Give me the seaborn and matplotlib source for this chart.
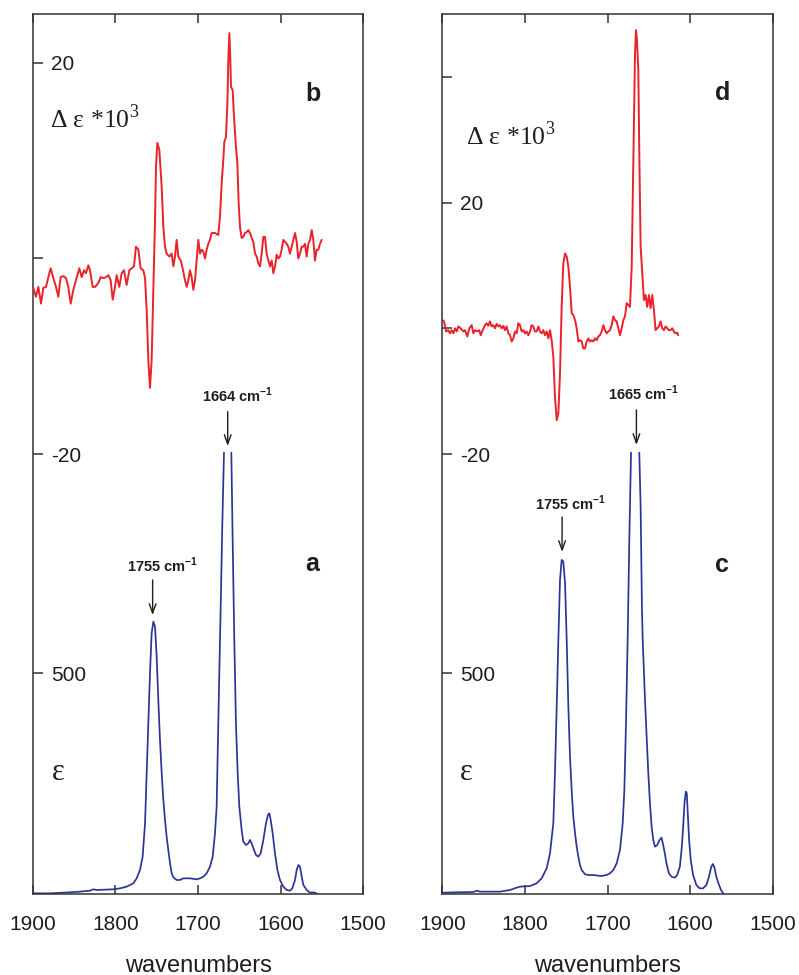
import numpy as np
import pandas as pd
import matplotlib
matplotlib.use("Agg")
import matplotlib.pyplot as plt
import seaborn as sns

# ---------------- data ----------------
# panel b : delta epsilon * 10^3 (left, red)
wn_b = [1899.6, 1896.4, 1893.5, 1890.3, 1887.5, 1884.2, 1881.4, 1878.6, 1875.4, 1872.1,
        1869.3, 1866.5, 1863.2, 1860.0, 1857.2, 1854.3, 1851.1, 1847.9, 1843.8, 1841.0,
        1838.2, 1835.8, 1832.9, 1830.9, 1827.7, 1824.8, 1820.8, 1818.0, 1814.7, 1811.5,
        1808.7, 1805.9, 1803.4, 1800.6, 1798.6, 1795.4, 1792.5, 1789.7, 1786.5, 1783.2,
        1780.4, 1777.6, 1775.2, 1772.3, 1769.5, 1766.3, 1764.2, 1762.2, 1760.2, 1758.2,
        1756.2, 1754.1, 1752.1, 1750.9, 1749.3, 1746.9, 1744.0, 1742.0, 1740.0, 1738.0,
        1734.7, 1731.9, 1729.9, 1727.9, 1725.9, 1723.8, 1721.0, 1718.6, 1715.8, 1713.7,
        1711.7, 1709.7, 1707.7, 1705.7, 1703.6, 1701.6, 1699.6, 1697.6, 1695.6, 1693.5,
        1691.5, 1689.5, 1687.5, 1685.5, 1683.4, 1679.4, 1675.4, 1673.3, 1671.3, 1669.3,
        1668.1, 1666.1, 1664.4, 1663.2, 1662.0, 1660.8, 1660.0, 1658.0, 1656.4, 1654.0,
        1652.3, 1650.7, 1649.1, 1647.1, 1645.1, 1643.0, 1641.0, 1639.0, 1637.0, 1634.9,
        1632.9, 1630.9, 1628.9, 1626.9, 1624.8, 1622.8, 1620.8, 1618.8, 1616.8, 1614.7,
        1612.7, 1610.7, 1608.7, 1606.7, 1604.6, 1602.6, 1600.6, 1598.6, 1596.6, 1594.5,
        1592.5, 1590.5, 1588.5, 1586.5, 1584.4, 1582.4, 1580.4, 1578.4, 1576.4, 1574.3,
        1572.3, 1570.3, 1568.3, 1566.3, 1564.2, 1562.2, 1560.2, 1558.2, 1556.2, 1554.1,
        1552.1, 1550.1]
de_b = [-3.0, -3.9, -2.9, -4.6, -3.0, -2.9, -1.9, -1.0, -2.0, -2.9,
        -3.9, -1.9, -1.8, -2.0, -2.9, -4.6, -3.2, -2.2, -1.0, -1.9,
        -1.2, -1.5, -0.7, -1.2, -2.9, -2.9, -2.5, -1.9, -2.0, -1.9,
        -1.7, -2.2, -4.2, -2.9, -1.7, -2.9, -1.5, -1.2, -2.7, -1.2,
        -1.0, -0.8, 1.2, 0.9, -1.0, -1.2, -2.0, -5.3, -10.4, -13.2,
        -10.4, -2.9, 3.9, 9.4, 11.8, 11.1, 7.3, 3.2, 1.2, 0.5,
        0.2, 0.5, -0.8, 0.2, 1.9, 0.2, -0.2, -1.0, -2.2, -2.9,
        -2.2, -1.2, -1.9, -3.2, -2.2, -0.2, 1.9, 0.5, 0.9, 0.7,
        0.0, 0.9, 1.5, 1.9, 2.6, 2.6, 2.4, 4.3, 7.7, 10.1,
        11.9, 12.4, 15.8, 20.3, 23.0, 20.3, 17.5, 17.2, 14.5, 11.4,
        9.7, 5.6, 3.2, 2.1, 2.2, 2.6, 2.7, 2.9, 2.6, 2.1,
        1.7, 0.5, 0.2, -0.5, -0.8, 0.5, 2.2, 2.2, 0.5, -0.2,
        -0.8, -0.2, -1.5, -0.8, 0.4, 0.0, 0.2, 0.9, 1.9, 1.7,
        1.5, 1.2, 0.5, 1.2, 1.9, 2.6, 1.7, 0.0, 0.5, 1.2,
        1.2, 1.5, 0.2, 1.5, 1.9, 2.9, 1.9, -0.2, 0.9, 0.9,
        1.5, 1.9]

# panel a : epsilon (left, blue); NaN = off-scale gap at the top
wn_a = [1899.6, 1879.4, 1855.2, 1843.0, 1830.9, 1826.9, 1822.8, 1802.6, 1794.5, 1786.5,
        1778.4, 1774.3, 1770.3, 1767.1, 1764.2, 1762.2, 1760.2, 1758.2, 1756.2, 1754.1,
        1752.1, 1750.1, 1748.1, 1746.1, 1744.0, 1742.0, 1740.0, 1738.0, 1736.0, 1733.9,
        1731.9, 1729.9, 1725.9, 1721.8, 1717.8, 1709.7, 1701.6, 1697.6, 1693.5, 1689.5,
        1685.5, 1682.2, 1679.4, 1677.4, 1675.0, 1672.5, 1670.5, 1668.5, 1664.0, 1659.6,
        1658.0, 1656.0, 1654.0, 1651.9, 1649.9, 1647.1, 1645.1, 1641.8, 1639.0, 1637.0,
        1635.0, 1632.9, 1629.7, 1626.9, 1624.0, 1620.8, 1617.6, 1615.2, 1613.5, 1611.9,
        1609.5, 1606.7, 1603.8, 1600.6, 1596.6, 1592.5, 1588.5, 1585.7, 1582.4, 1580.4,
        1578.4, 1576.4, 1574.3, 1572.3, 1568.3, 1564.2, 1560.2, 1556.2]
eps_a = [1.5, 1.5, 3.8, 5.3, 7.6, 10.6, 9.1, 10.6, 12.8, 16.6,
         24.2, 35.5, 54.4, 84.6, 160.1, 273.4, 386.7, 500.0, 590.7, 617.1,
         605.8, 537.8, 439.6, 349.0, 273.4, 213.0, 167.7, 129.9, 99.7, 69.5,
         46.8, 37.8, 31.7, 31.7, 35.5, 35.5, 33.2, 35.5, 39.3, 46.8,
         61.9, 84.6, 137.5, 197.9, 424.5, 651.1, 840.0, 1000.0, np.nan, 1000.0,
         802.2, 575.6, 386.7, 273.4, 197.9, 145.0, 118.6, 111.0, 114.8, 122.4,
         114.8, 103.5, 88.4, 84.6, 92.2, 122.4, 160.1, 179.0, 182.8, 167.7,
         137.5, 92.2, 54.4, 31.7, 16.6, 9.1, 7.6, 12.8, 31.7, 54.4,
         65.7, 61.9, 39.3, 20.4, 9.1, 3.0, 3.8, 1.5]

# panel d : delta epsilon * 10^3 (right, red)
wn_d = [1899.6, 1897.9, 1895.5, 1892.7, 1890.7, 1888.7, 1886.6, 1884.6, 1882.6, 1880.6,
        1877.8, 1874.5, 1872.5, 1869.7, 1867.3, 1864.4, 1862.4, 1860.4, 1857.6, 1855.2,
        1853.5, 1851.1, 1848.3, 1846.3, 1844.3, 1842.3, 1840.2, 1838.2, 1836.2, 1834.2,
        1832.2, 1830.2, 1828.1, 1826.1, 1824.1, 1822.1, 1820.1, 1818.0, 1816.0, 1814.0,
        1812.0, 1810.0, 1808.0, 1805.9, 1803.9, 1801.9, 1799.9, 1797.9, 1795.8, 1793.8,
        1791.8, 1789.8, 1787.8, 1785.8, 1783.7, 1781.7, 1779.7, 1777.7, 1775.7, 1773.6,
        1771.6, 1769.6, 1767.6, 1765.6, 1763.6, 1761.5, 1759.5, 1757.5, 1755.5, 1753.5,
        1751.4, 1749.4, 1747.4, 1745.4, 1743.4, 1741.4, 1739.3, 1737.3, 1735.3, 1733.3,
        1731.3, 1729.3, 1727.2, 1725.2, 1723.2, 1721.2, 1719.2, 1717.1, 1715.1, 1713.1,
        1711.1, 1709.1, 1707.1, 1705.0, 1703.0, 1701.0, 1699.0, 1697.0, 1694.9, 1692.9,
        1690.9, 1688.9, 1686.9, 1684.9, 1682.8, 1680.8, 1678.8, 1676.8, 1674.8, 1672.8,
        1670.7, 1668.7, 1666.7, 1665.5, 1664.3, 1662.7, 1661.5, 1659.9, 1657.9, 1655.9,
        1653.9, 1651.9, 1649.9, 1647.8, 1645.8, 1643.8, 1641.8, 1639.8, 1637.8, 1635.8,
        1633.7, 1631.7, 1629.7, 1627.7, 1625.7, 1623.7, 1621.6, 1619.6, 1617.6, 1615.6,
        1614.4]
de_d = [1.3, 1.1, -0.5, -0.3, -0.8, -0.3, -0.8, 0.0, -0.5, 0.3,
        0.0, -0.5, -0.3, -1.3, 0.0, 0.5, -0.8, -0.3, -0.5, -0.3,
        -1.1, -0.3, 0.5, 0.8, 0.4, 1.1, 0.3, 0.5, 0.0, 0.7,
        0.3, 0.5, 0.0, 0.4, -0.3, 0.3, -0.8, -1.1, -2.1, -1.6,
        -0.5, -0.8, 0.8, 0.5, -0.5, -0.3, -0.8, -0.5, -1.1, -0.5,
        0.5, 0.3, -0.5, -0.5, 0.3, -0.5, -0.8, -0.3, -1.1, -0.5,
        -1.6, -0.3, -1.9, -4.5, -10.9, -14.6, -13.5, -7.2, 3.4, 10.3,
        11.9, 11.4, 9.8, 6.6, 2.4, 2.1, 1.3, 0.0, -2.1, -1.9,
        -2.1, -3.2, -3.2, -2.1, -1.6, -2.1, -1.9, -2.1, -1.6, -1.9,
        -1.3, -1.1, -0.5, 0.5, -0.3, -0.8, -0.5, -0.3, 0.5, 1.9,
        1.3, 1.1, 0.0, -1.1, 0.0, 1.3, 1.9, 4.0, 3.7, 3.4,
        9.8, 26.8, 43.7, 47.4, 45.8, 41.1, 27.8, 13.0, 8.7, 4.5,
        5.3, 3.4, 5.3, 3.2, 5.3, 2.9, -0.3, 0.0, 0.3, 1.1,
        0.0, -0.3, 0.3, 0.0, -0.3, -0.3, 0.0, -0.5, -0.8, -0.7,
        -1.1]

# panel c : epsilon (right, blue); NaN = off-scale gap at the top
wn_c = [1899.9, 1882.6, 1862.4, 1858.4, 1854.4, 1830.2, 1818.0, 1810.0, 1805.9, 1793.8,
        1785.8, 1779.7, 1773.6, 1769.6, 1765.6, 1763.6, 1761.5, 1759.5, 1757.5, 1755.5,
        1753.5, 1751.4, 1749.4, 1747.4, 1745.4, 1743.4, 1741.4, 1739.3, 1737.3, 1735.3,
        1733.3, 1731.3, 1727.2, 1723.2, 1717.1, 1711.1, 1707.1, 1701.0, 1697.0, 1692.9,
        1688.9, 1684.9, 1681.6, 1679.6, 1677.6, 1675.6, 1673.6, 1671.5, 1666.5, 1661.5,
        1659.9, 1658.3, 1657.4, 1654.6, 1652.6, 1650.6, 1648.6, 1646.6, 1644.6, 1642.6,
        1639.8, 1637.0, 1634.6, 1632.6, 1630.6, 1628.6, 1625.7, 1622.5, 1618.5, 1615.6,
        1612.4, 1610.0, 1608.4, 1606.8, 1605.2, 1604.0, 1602.8, 1601.2, 1599.2, 1596.4,
        1592.4, 1588.4, 1584.3, 1580.3, 1577.1, 1574.3, 1572.3, 1570.3, 1568.3, 1565.0,
        1562.2, 1559.3]
eps_c = [3.0, 3.8, 4.5, 7.6, 5.3, 5.3, 9.1, 14.4, 16.6, 18.1,
         24.2, 35.5, 58.2, 92.2, 160.1, 273.4, 424.5, 575.6, 711.5, 756.9,
         753.1, 704.0, 575.6, 424.5, 311.2, 235.7, 175.2, 137.5, 107.3, 84.6,
         65.7, 54.4, 44.6, 43.1, 43.1, 41.5, 40.8, 43.1, 46.8, 54.4,
         69.5, 99.7, 160.1, 235.7, 386.7, 575.6, 802.2, 1000.0, np.nan, 1000.0,
         877.7, 651.1, 575.6, 439.6, 356.5, 273.4, 205.5, 152.6, 122.4, 107.3,
         111.0, 122.4, 127.7, 111.0, 92.2, 69.5, 46.8, 39.3, 37.0, 43.1,
         61.9, 107.3, 152.6, 205.5, 231.9, 228.1, 182.8, 122.4, 77.0, 43.1,
         20.4, 12.8, 12.8, 20.4, 39.3, 61.9, 68.0, 58.2, 39.3, 20.4,
         7.6, 0.0]

x_ticks = [1900, 1800, 1700, 1600, 1500]
x_ticklabels = ["1900", "1800", "1700", "1600", "1500"]
eps_ticks = [500]
eps_ticklabels = ["500"]
de_ticks_left = [-20, 0, 20]
de_ticklabels_left = ["-20", "", "20"]
de_ticks_right = [-20, 0, 20, 40]
de_ticklabels_right = ["-20", "", "20", ""]
peaks_left = [1755, 1664]
peaks_right = [1755, 1665]

# ---------------- styling ----------------
sns.set_theme(style="white")
plt.rcParams["font.family"] = ["Liberation Sans", "DejaVu Sans"]
plt.rcParams["mathtext.fontset"] = "custom"
plt.rcParams["mathtext.rm"] = "Liberation Serif"
plt.rcParams["mathtext.sf"] = "Liberation Sans:bold"
plt.rcParams["axes.unicode_minus"] = False

RED = "#ea2229"
BLUE = "#2b3595"
FRAME = "#333333"
TXT = "#1e1e1e"

fig = plt.figure(figsize=(7.99, 9.75), dpi=100)

EPS_TOP = 1993.7


def style_frame(ax):
    for s in ax.spines.values():
        s.set_color(FRAME)
        s.set_linewidth(1.1)


def make_panel(rect, wn_top, de_top, wn_bot, eps_bot, de_lim, de_ticks, de_labels,
               top_letter, bot_letter, peaks, label_pos):
    ax = fig.add_axes(rect)
    df = pd.DataFrame({"wn": wn_bot, "eps": eps_bot})
    df["seg"] = df["eps"].isna().cumsum()
    df = df.dropna()
    sns.lineplot(data=df, x="wn", y="eps", units="seg", estimator=None, sort=False,
                 color=BLUE, lw=1.25, ax=ax)
    ax.set_xlim(1900, 1500)
    ax.set_ylim(0, EPS_TOP)
    ax.set_xticks(x_ticks)
    ax.set_xticklabels(x_ticklabels)
    ax.set_yticks(eps_ticks)
    ax.set_yticklabels(eps_ticklabels)
    ax.set_xlabel("wavenumbers", fontsize=17, color=TXT, labelpad=15)
    ax.set_ylabel("")
    style_frame(ax)
    ax.tick_params(axis="x", direction="in", top=True, bottom=True, length=6.5,
                   width=1.1, color=FRAME, labelsize=15, pad=15, labelcolor=TXT)
    ax.tick_params(axis="y", direction="in", left=True, right=False, length=7,
                   width=1.1, color=FRAME, labelsize=15, pad=-13, labelcolor=TXT)
    for lab in ax.get_yticklabels():
        lab.set_horizontalalignment("left")

    ax2 = fig.add_axes(rect, sharex=ax)
    ax2.patch.set_visible(False)
    sns.lineplot(x=wn_top, y=de_top, color=RED, lw=1.4, ax=ax2, sort=False,
                 estimator=None)
    ax2.set_xlim(1900, 1500)
    ax2.set_ylim(*de_lim)
    ax2.set_yticks(de_ticks)
    ax2.set_yticklabels(de_labels)
    ax2.set_xlabel("")
    ax2.set_ylabel("")
    for s in ax2.spines.values():
        s.set_visible(False)
    ax2.tick_params(axis="x", which="both", bottom=False, top=False,
                    labelbottom=False, labeltop=False)
    ax2.tick_params(axis="y", direction="in", left=True, right=False, length=7,
                    width=1.1, color=FRAME, labelsize=15, pad=-13, labelcolor=TXT)
    for lab in ax2.get_yticklabels():
        lab.set_horizontalalignment("left")

    # labels
    lp = label_pos
    ax.text(lp["de"][0], lp["de"][1], "\u0394 \u03b5 *10$^{3}$", family="Liberation Serif",
            fontsize=18.5, color=TXT, ha="left", va="baseline")
    ax.text(lp["eps"][0], lp["eps"][1], "\u03b5", family="Liberation Serif",
            fontsize=22, color=TXT, ha="left", va="baseline")
    ax.text(1561, lp["top_letter_y"], top_letter, fontsize=18, fontweight="bold",
            color=TXT, ha="center", va="center")
    ax.text(1561, lp["bot_letter_y"], bot_letter, fontsize=18, fontweight="bold",
            color=TXT, ha="center", va="center")
    for pk, (tx, ty), (a0, a1) in zip(peaks, lp["ann_text"], lp["ann_arrow"]):
        ax.text(tx, ty, f"{pk} cm" + r"$^{\mathsf{-1}}$", fontsize=10.5,
                fontweight="bold", color=TXT, ha="center", va="center")
        ax.annotate("", xy=(pk, a1), xytext=(pk, a0),
                    arrowprops=dict(arrowstyle="->,head_length=0.55,head_width=0.2",
                                    color=TXT, lw=1.0, shrinkA=0, shrinkB=0))
    return ax, ax2


left_rect = [33 / 799, 81 / 975, 330 / 799, 880 / 975]
right_rect = [442.3 / 799, 81 / 975, 330.4 / 799, 880 / 975]

make_panel(left_rect, wn_b, de_b, wn_a, eps_a, (-64.85, 24.95),
           de_ticks_left, de_ticklabels_left, "b", "a", peaks_left,
           dict(de=(1879.4, 1735.4), eps=(1876.9, 258),
                top_letter_y=1812, bot_letter_y=747,
                ann_text=[(1742.4, 745.5), (1651.5, 1130.7)],
                ann_arrow=[(711.5, 632), (1092.7, 1015)]))

make_panel(right_rect, wn_d, de_d, wn_c, eps_c, (-89.94, 49.97),
           de_ticks_right, de_ticklabels_right, "d", "c", peaks_right,
           dict(de=(1871.5, 1697), eps=(1878.6, 258),
                top_letter_y=1815, bot_letter_y=745,
                ann_text=[(1744.2, 886), (1656.4, 1135)],
                ann_arrow=[(854, 775), (1096.7, 1017.4)]))

fig.savefig("out.png", dpi=100, facecolor="white")
